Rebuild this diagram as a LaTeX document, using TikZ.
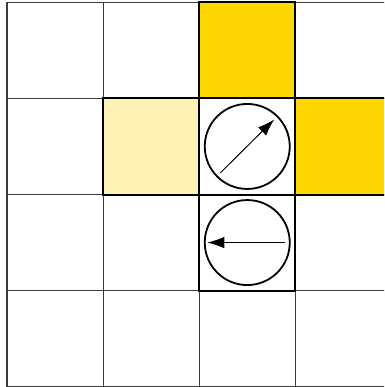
\documentclass[tikz,border=0pt]{standalone}
\usetikzlibrary{calc,arrows.meta}
\definecolor{gold}{HTML}{FFD700}
\definecolor{paleyellow}{HTML}{FEF3B5}
\definecolor{gridgray}{HTML}{3A3A3A}
\begin{document}
\begin{tikzpicture}[x=1pt,y=-1pt,
  gridline/.style={draw=gridgray,line width=1.1pt},
  hcell/.style={draw=black,line width=2pt,minimum size=96.1pt,inner sep=0pt,outer sep=0pt,rectangle},
  ring/.style={draw=black,line width=1.8pt,circle,minimum size=85pt,inner sep=0pt,fill=white},
  dirarrow/.style={line width=1pt,-{Latex[length=17pt,width=11.5pt]}}]
\useasboundingbox (0,0) rectangle (384,387);
\clip (0,0) rectangle (384,387);
\fill[white] (0,0) rectangle (384,387);
% thin grid
\draw[gridline] (7,2.3) rectangle (391.4,386.7);
\foreach \i in {1,2,3} {
  \draw[gridline] ({7+96.1*\i},2.3) -- ({7+96.1*\i},386.7);
  \draw[gridline] (7,{2.3+96.1*\i}) -- (391.4,{2.3+96.1*\i});
}
% highlighted cells (column, row)
\node[hcell,fill=gold] (c20) at ({7+96.1*2.5},{2.3+96.1*0.5}) {};
\node[hcell,fill=paleyellow] (c11) at ({7+96.1*1.5},{2.3+96.1*1.5}) {};
\node[hcell,fill=gold] (c31) at ({7+96.1*3.5},{2.3+96.1*1.5}) {};
\node[hcell,fill=white] (c21) at ({7+96.1*2.5},{2.3+96.1*1.5}) {};
\node[hcell,fill=white] (c22) at ({7+96.1*2.5},{2.3+96.1*2.5}) {};
% rings
\node[ring] (r1) at (c21.center) {};
\node[ring] (r2) at (c22.center) {};
\coordinate (a1s) at ($(r1.center)+(-27,26.5)$);
\coordinate (a1e) at ($(r1.center)+(27,-27)$);
\coordinate (a2s) at ($(r2.center)+(38,0)$);
\coordinate (a2e) at ($(r2.center)+(-40,0)$);
\draw[dirarrow] (a1s) -- (a1e);
\draw[dirarrow] (a2s) -- (a2e);
\end{tikzpicture}
\end{document}
